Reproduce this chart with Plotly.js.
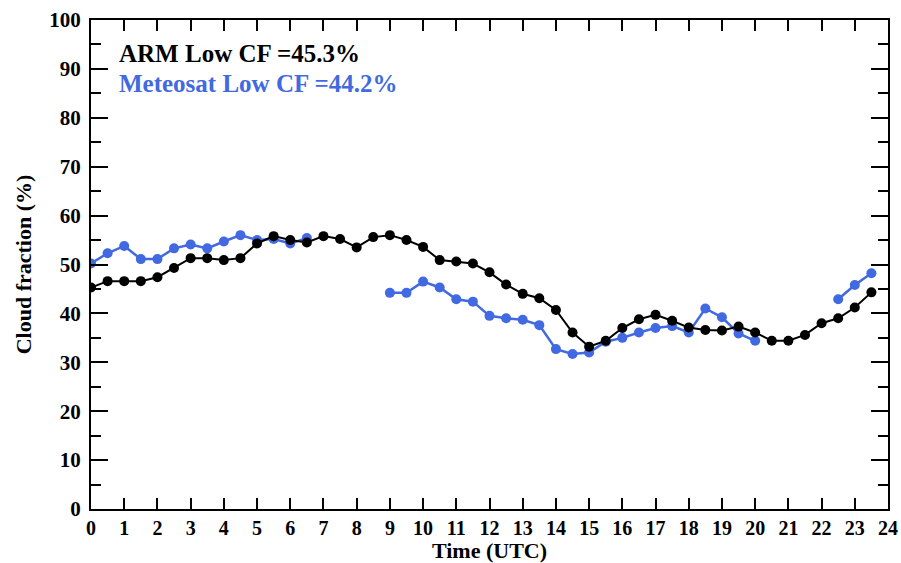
<!DOCTYPE html>
<html>
<head>
<meta charset="utf-8">
<script src="https://cdn.plot.ly/plotly-3.0.1.min.js"></script>
<style>html,body{margin:0;padding:0;background:#fff;}#chart{width:901px;height:563px;}</style>
</head>
<body>
<div id="chart"></div>
<script>
const armTime = [0,0.5,1,1.5,2,2.5,3,3.5,4,4.5,5,5.5,6,6.5,7,7.5,8,8.5,9,9.5,10,10.5,11,11.5,12,12.5,13,13.5,14,14.5,15,15.5,16,16.5,17,17.5,18,18.5,19,19.5,20,20.5,21,21.5,22,22.5,23,23.5];
const armCF = [45.3,46.6,46.6,46.6,47.4,49.3,51.3,51.3,50.9,51.3,54.3,55.8,55.0,54.5,55.8,55.2,53.5,55.6,56.0,55.0,53.6,50.9,50.6,50.2,48.4,45.9,44.0,43.1,40.7,36.1,33.2,34.4,37.0,38.8,39.7,38.5,37.1,36.6,36.5,37.3,36.1,34.4,34.4,35.6,38.0,39.0,41.2,44.3];
const metTime = [0,0.5,1,1.5,2,2.5,3,3.5,4,4.5,5,5.5,6,6.5,7,7.5,8,8.5,9,9.5,10,10.5,11,11.5,12,12.5,13,13.5,14,14.5,15,15.5,16,16.5,17,17.5,18,18.5,19,19.5,20,20.5,21,21.5,22,22.5,23,23.5];
const metCF = [50.2,52.3,53.8,51.1,51.1,53.3,54.1,53.3,54.7,56.0,55.0,55.2,54.3,55.4,null,null,null,null,44.2,44.2,46.5,45.3,42.9,42.4,39.5,39.0,38.7,37.6,32.7,31.7,32.0,34.2,35.0,36.1,37.0,37.4,36.1,41.0,39.2,35.9,34.4,null,null,null,null,42.9,45.8,48.2];
const xTicks = [0,1,2,3,4,5,6,7,8,9,10,11,12,13,14,15,16,17,18,19,20,21,22,23,24];
const yTicks = [0,10,20,30,40,50,60,70,80,90,100];
const labels = ["ARM Low CF =45.3%", "Meteosat Low CF =44.2%"];

const blue = '#4169E1';
const font = 'Liberation Serif, Times New Roman, serif';

const traces = [
  {x: metTime, y: metCF, mode: 'lines+markers', connectgaps: false,
   line: {color: blue, width: 2.5}, marker: {color: blue, size: 10}, name: 'Meteosat'},
  {x: armTime, y: armCF, mode: 'lines+markers',
   line: {color: '#000', width: 2}, marker: {color: '#000', size: 10}, name: 'ARM'}
];

const axisCommon = {
  showgrid: false, zeroline: false, showline: true, linecolor: '#000', linewidth: 2,
  mirror: 'allticks', ticks: 'inside', tickwidth: 2, tickcolor: '#000'
};

const layout = {
  width: 901, height: 563,
  margin: {l: 91, r: 13, t: 20, b: 54},
  paper_bgcolor: '#fff', plot_bgcolor: '#fff',
  showlegend: false,
  font: {family: font, color: '#000'},
  xaxis: Object.assign({}, axisCommon, {
    range: [0, 24], tickvals: xTicks, ticktext: xTicks.map(String), ticklen: 11,
    tickfont: {family: font, size: 20, color: '#000', weight: 'bold'},
    title: {text: 'Time (UTC)', font: {family: font, size: 22, weight: 'bold'}, standoff: 0}
  }),
  yaxis: Object.assign({}, axisCommon, {
    range: [0, 100], tickvals: yTicks, ticktext: yTicks.map(String), ticklen: 17,
    tickfont: {family: font, size: 21, color: '#000', weight: 'bold'},
    ticklabelstandoff: 4,
    minor: {dtick: 5, ticks: 'inside', ticklen: 10, tickwidth: 2, tickcolor: '#000', showgrid: false},
    title: {text: 'Cloud fraction (%)', font: {family: font, size: 22, weight: 'bold'}, standoff: 12}
  }),
  annotations: [
    {xref: 'paper', yref: 'paper', x: 0.033, y: 0.9325, xanchor: 'left', yanchor: 'middle',
     text: labels[0], showarrow: false, font: {family: font, size: 25, color: '#000', weight: 'bold'}},
    {xref: 'paper', yref: 'paper', x: 0.033, y: 0.871, xanchor: 'left', yanchor: 'middle',
     text: labels[1], showarrow: false, font: {family: font, size: 25, color: blue, weight: 'bold'}}
  ]
};

Plotly.newPlot('chart', traces, layout, {displayModeBar: false, staticPlot: true});
</script>
</body>
</html>
